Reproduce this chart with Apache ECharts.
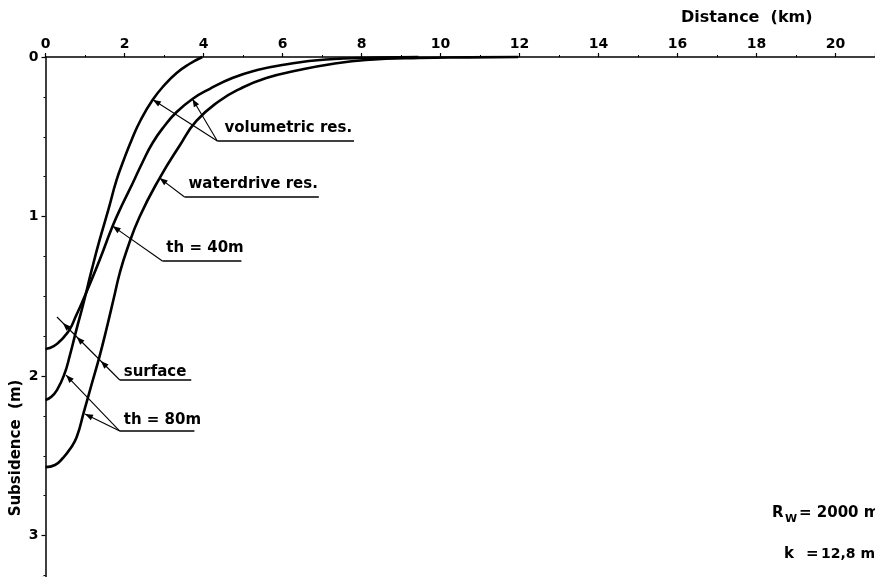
<!DOCTYPE html>
<html>
<head>
<meta charset="utf-8">
<script src="https://cdn.jsdelivr.net/npm/echarts@6/dist/echarts.min.js"></script>
<style>
  html, body { margin: 0; padding: 0; background: #fff; }
  #chart { width: 875px; height: 577px; }
</style>
</head>
<body>
<div id="chart"></div>
<script>
// Subsidence bowls: distance from the field centre (km) against subsidence (m)

// volumetric reservoir, th = 80 m
const vol80Km = [0.00, 0.14, 0.29, 0.47, 0.62, 0.78, 0.95, 1.17, 1.37, 1.59, 1.80, 1.98, 2.18, 2.41, 2.71, 3.01, 3.32, 3.64, 3.97];
const vol80M  = [2.150, 2.132, 2.088, 1.994, 1.868, 1.712, 1.555, 1.335, 1.147, 0.959, 0.771, 0.646, 0.520, 0.395, 0.270, 0.176, 0.100, 0.044, 0.000];

// volumetric reservoir, th = 40 m
const vol40Km = [0.00, 0.21, 0.37, 0.47, 0.62, 0.77, 0.92, 1.07, 1.37, 1.70, 1.95, 2.21, 2.46, 2.71, 3.01, 3.32, 3.72, 4.15, 4.73, 5.36, 5.99, 7.10, 8.44, 9.44];
const vol40M  = [1.831, 1.812, 1.781, 1.755, 1.705, 1.624, 1.542, 1.455, 1.273, 1.060, 0.922, 0.790, 0.658, 0.539, 0.433, 0.345, 0.263, 0.201, 0.132, 0.082, 0.050, 0.016, 0.004, 0.000];

// waterdrive reservoir, th = 80 m
const wat80Km = [0.00, 0.24, 0.44, 0.62, 0.79, 0.97, 1.17, 1.37, 1.55, 1.73, 1.88, 2.06, 2.38, 2.89, 3.39, 3.82, 4.40, 4.91, 5.59, 6.42, 7.25, 8.11, 9.45, 10.70, 11.97];
const wat80M  = [2.571, 2.558, 2.514, 2.458, 2.382, 2.226, 2.050, 1.875, 1.699, 1.511, 1.354, 1.210, 1.003, 0.759, 0.558, 0.401, 0.276, 0.201, 0.132, 0.082, 0.044, 0.019, 0.006, 0.0025, 0.000];

// axis settings
const distanceTicks = [0, 2, 4, 6, 8, 10, 12, 14, 16, 18, 20];
const subsidenceTicks = [0, 1, 2, 3];

const pairs = (xs, ys) => xs.map((x, i) => [x, ys[i]]);

const FONT = '"DejaVu Sans", "Liberation Sans", sans-serif';
const chart = echarts.init(document.getElementById('chart'), null, { renderer: 'canvas' });

const curveStyle = { color: '#000', width: 2.6 };
const makeCurve = (name, xs, ys) => ({
  name, type: 'line', data: pairs(xs, ys),
  showSymbol: false, smooth: 0.5, clip: false,
  lineStyle: curveStyle, itemStyle: { color: '#000' }, silent: true
});

chart.setOption({
  animation: false,
  backgroundColor: '#fff',
  grid: { left: 45.5, top: 57, width: 21 * 39.65, height: 520, containLabel: false },
  xAxis: {
    type: 'value', position: 'top', min: 0, max: 21, interval: 2,
    axisLine: { lineStyle: { color: '#000', width: 1.5 } },
    axisTick: { show: true, inside: false, length: 4, lineStyle: { color: '#000', width: 1.2 } },
    minorTick: { show: true, splitNumber: 2, length: 2, lineStyle: { color: '#000', width: 1 } },
    axisLabel: {
      color: '#000', fontFamily: FONT, fontWeight: 'bold', fontSize: 14, margin: 6,
      showMaxLabel: false,
      formatter: v => distanceTicks.includes(v) ? String(v) : ''
    },
    splitLine: { show: false }
  },
  yAxis: {
    type: 'value', inverse: true, min: 0, max: 3.26, interval: 1,
    axisLine: { lineStyle: { color: '#000', width: 1.5 } },
    axisTick: { show: true, inside: false, length: 4, lineStyle: { color: '#000', width: 1.2 } },
    minorTick: { show: true, splitNumber: 4, length: 2, lineStyle: { color: '#000', width: 1 } },
    axisLabel: {
      color: '#000', fontFamily: FONT, fontWeight: 'bold', fontSize: 14, margin: 7,
      showMaxLabel: false,
      formatter: v => subsidenceTicks.includes(v) ? String(v) : ''
    },
    splitLine: { show: false }
  },
  series: [
    makeCurve('volumetric th=80m', vol80Km, vol80M),
    makeCurve('volumetric th=40m', vol40Km, vol40M),
    makeCurve('waterdrive th=80m', wat80Km, wat80M)
  ]
});

// Annotation leaders, in axis units [km, m]
const annotations = [
  { text: 'volumetric res.', label: [4.53, 0.445], anchor: [4.35, 0.527], end: [7.81, 0.527],
    leaders: [{ to: [2.72, 0.268], heads: [[2.72, 0.268]] }, { to: [3.72, 0.263], heads: [[3.72, 0.263]] }] },
  { text: 'waterdrive res.', label: [3.62, 0.80], anchor: [3.52, 0.878], end: [6.92, 0.878],
    leaders: [{ to: [2.89, 0.759], heads: [[2.89, 0.759]] }] },
  { text: 'th = 40m', label: [3.06, 1.197], anchor: [2.96, 1.279], end: [4.96, 1.279],
    leaders: [{ to: [1.70, 1.06], heads: [[1.70, 1.06]] }] },
  { text: 'surface', label: [1.98, 1.975], anchor: [1.88, 2.025], end: [3.69, 2.025],
    leaders: [{ to: [0.29, 1.63], heads: [[0.44, 1.668], [0.79, 1.755], [1.40, 1.906]] }] },
  { text: 'th = 80m', label: [1.98, 2.276], anchor: [1.88, 2.345], end: [3.77, 2.345],
    leaders: [{ to: [0.52, 1.994], heads: [[0.52, 1.994]] }, { to: [1.0, 2.238], heads: [[1.0, 2.238]] }] }
];

const px = p => chart.convertToPixel({ gridIndex: 0 }, p);

function arrowHead(tip, from) {
  const dx = tip[0] - from[0], dy = tip[1] - from[1];
  const len = Math.hypot(dx, dy);
  const ux = dx / len, uy = dy / len;
  const L = 8, W = 3;
  const bx = tip[0] - ux * L, by = tip[1] - uy * L;
  return {
    type: 'polygon', silent: true,
    shape: { points: [tip, [bx - uy * W, by + ux * W], [bx + uy * W, by - ux * W]] },
    style: { fill: '#000' }
  };
}

const graphics = [];
annotations.forEach(a => {
  const anc = px(a.anchor), end = px(a.end), lab = px(a.label);
  graphics.push({
    type: 'line', silent: true,
    shape: { x1: anc[0], y1: anc[1], x2: end[0], y2: end[1] },
    style: { stroke: '#000', lineWidth: 1.5 }
  });
  a.leaders.forEach(l => {
    const to = px(l.to);
    graphics.push({
      type: 'line', silent: true,
      shape: { x1: anc[0], y1: anc[1], x2: to[0], y2: to[1] },
      style: { stroke: '#000', lineWidth: 1.1 }
    });
    l.heads.forEach(h => graphics.push(arrowHead(px(h), anc)));
  });
  graphics.push({
    type: 'text', silent: true, x: lab[0], y: lab[1],
    style: { text: a.text, fill: '#000', font: 'bold 15px ' + FONT, align: 'left', verticalAlign: 'middle' }
  });
});

// Axis titles and reservoir parameters
const txt = (text, x, y, size, extra) => Object.assign({
  type: 'text', silent: true, x, y,
  style: { text, fill: '#000', font: 'bold ' + size + 'px ' + FONT, align: 'left', verticalAlign: 'middle' }
}, extra || {});

graphics.push(txt('Distance  (km)', 681, 18, 16));
graphics.push({
  type: 'text', silent: true, x: 16, y: 448, rotation: Math.PI / 2,
  style: { text: 'Subsidence  (m)', fill: '#000', font: 'bold 15px ' + FONT, align: 'center', verticalAlign: 'middle' }
});
graphics.push(txt('R', 772, 513, 15));
graphics.push(txt('W', 785, 519, 11));
graphics.push(txt('= 2000 m', 799, 513, 15));
graphics.push(txt('k', 784, 554, 15));
graphics.push(txt('=', 806, 554, 15));
graphics.push(txt('12,8 md', 821, 554, 14));

chart.setOption({ graphic: graphics });
</script>
</body>
</html>
